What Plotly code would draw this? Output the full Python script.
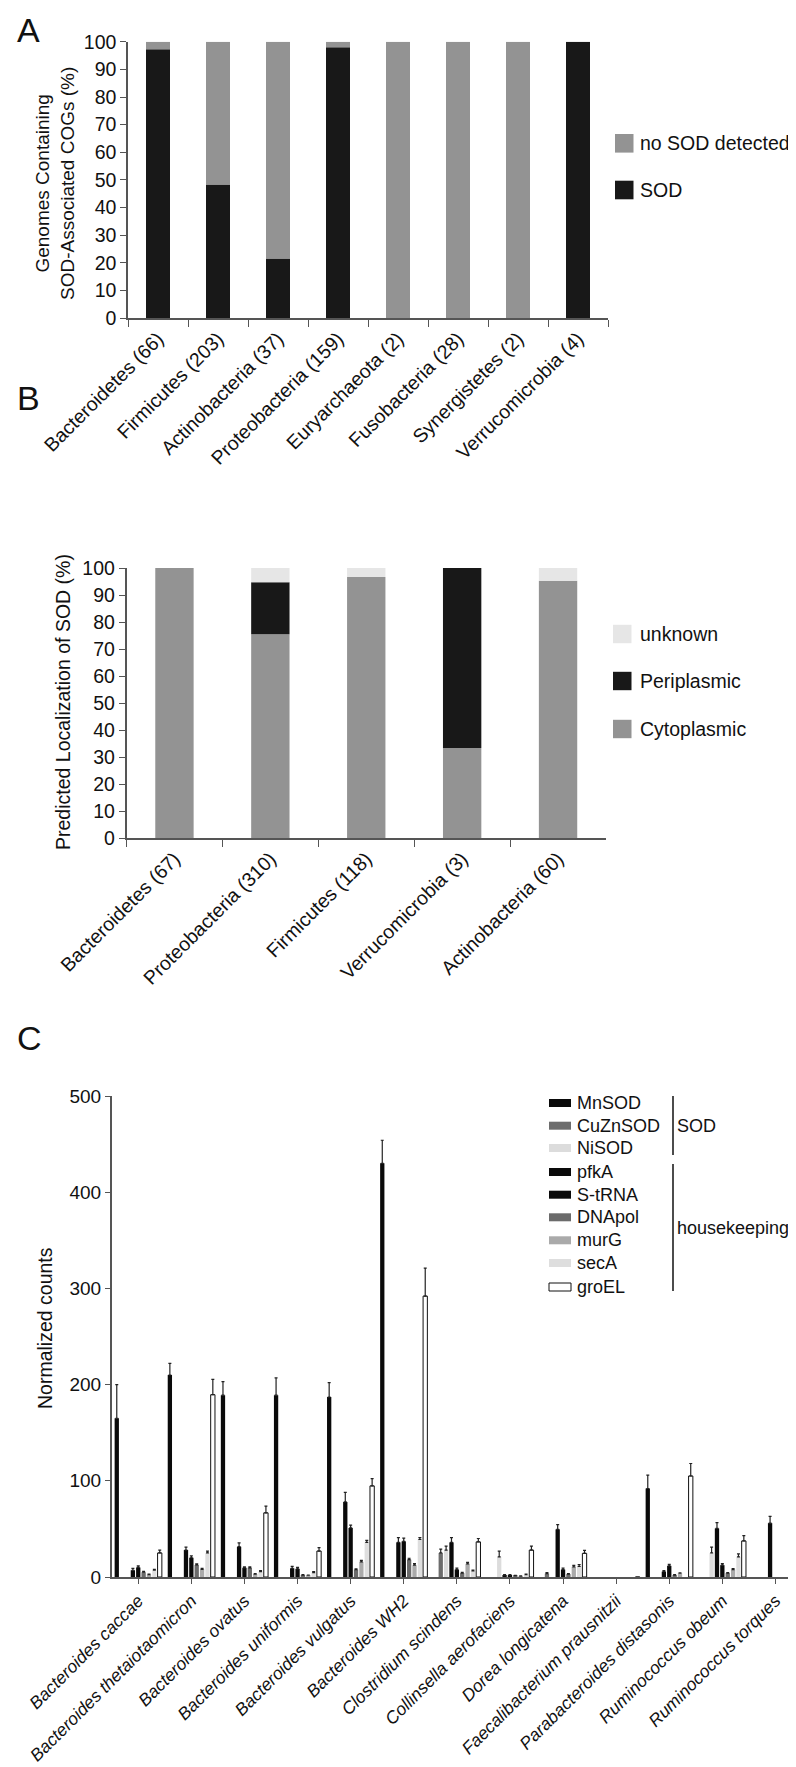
import plotly.graph_objects as go

W, H = 796, 1767

# ---------------- Panel A data ----------------
phyla_a = ["Bacteroidetes (66)", "Firmicutes (203)", "Actinobacteria (37)", "Proteobacteria (159)",
           "Euryarchaeota (2)", "Fusobacteria (28)", "Synergistetes (2)", "Verrucomicrobia (4)"]
sod_a = [97.3, 48.3, 21.5, 98.0, 0, 0, 0, 100]
nosod_a = [2.7, 51.7, 78.5, 2.0, 100, 100, 100, 0]
legend_a = ["no SOD detected", "SOD"]
ytitle_a = "Genomes Containing<br>SOD-Associated COGs (%)"

# ---------------- Panel B data ----------------
phyla_b = ["Bacteroidetes (67)", "Proteobacteria (310)", "Firmicutes (118)", "Verrucomicrobia (3)",
           "Actinobacteria (60)"]
cyto_b = [100, 75.5, 96.7, 33.3, 95.3]
peri_b = [0, 19.2, 0, 66.7, 0]
unk_b = [0, 5.3, 3.3, 0, 4.7]
legend_b = ["unknown", "Periplasmic", "Cytoplasmic"]
ytitle_b = "Predicted Localization of SOD (%)"

# ---------------- Panel C data ----------------
species = ["Bacteroides caccae", "Bacteroides thetaiotaomicron", "Bacteroides ovatus",
           "Bacteroides uniformis", "Bacteroides vulgatus", "Bacteroides WH2",
           "Clostridium scindens", "Collinsella aerofaciens", "Dorea longicatena",
           "Faecalibacterium prausnitzii", "Parabacteroides distasonis", "Ruminococcus obeum",
           "Ruminococcus torques"]
genes_c = ["MnSOD", "CuZnSOD", "NiSOD", "pfkA", "S-tRNA", "DNApol", "murG", "secA", "groEL"]
mnsod = [165, 210, 189, 189, 187, 430, 0, 0, 0, 0, 92, 0, 0]
mnsod_err = [35, 12, 14, 18, 15, 24, 0, 0, 0, 0, 14, 0, 0]
cuznsod = [0, 0, 0, 0, 0, 0, 25, 0, 3.5, 0, 0, 0, 0]
cuznsod_err = [0, 0, 0, 0, 0, 0, 4, 0, 1, 0, 0, 0, 0]
nisod = [0, 0, 0, 0, 0, 0, 28, 21, 0, 0, 0, 25, 0]
nisod_err = [0, 0, 0, 0, 0, 0, 4, 6, 0, 0, 0, 6, 0]
pfka = [7, 28, 31.5, 9, 78, 36, 36, 2, 49.5, 0, 5.6, 50.5, 56]
pfka_err = [2, 3, 4, 2, 10, 5, 5, 0.5, 5, 0, 1, 6, 7]
strna = [10, 20, 9.5, 8.5, 51, 37, 7.7, 2, 7.7, 0, 11.6, 12.3, 0]
strna_err = [1.5, 2, 1, 1.5, 3, 3.5, 1.5, 0.5, 1.5, 0, 1.5, 1.5, 0]
dnapol = [5, 12.6, 9.5, 2, 7.7, 18, 4, 1.4, 3, 0, 2, 4, 0]
dnapol_err = [0.8, 1, 1, 0.5, 0.8, 1.5, 0.8, 0.3, 0.5, 0, 0.4, 0.6, 0]
murg = [2.5, 8, 3, 1.8, 15.8, 12.3, 13.7, 1, 10.5, 0, 3.9, 7.7, 0]
murg_err = [0.5, 1, 0.5, 0.3, 1.5, 1.5, 1.5, 0.3, 1.5, 0, 0.5, 1, 0]
seca = [7, 25, 5.6, 4.6, 36, 39, 6.3, 2.5, 11, 0, 0, 21, 5.3]
seca_err = [1, 2, 1, 1, 2, 2, 1, 0.5, 2, 0, 0, 3, 1]
groel = [25, 189.5, 66.7, 27, 94.7, 292, 36.5, 28, 24.6, 0, 105, 37.5, 0]
groel_err = [3, 16, 7, 3.5, 7.5, 29, 3.5, 4, 3, 0, 13, 5.5, 0]
ytitle_c = "Normalized counts"

# ---------------- styles ----------------
FONT = "Liberation Sans, Arial, Helvetica, sans-serif"
DARK = "#181818"
MID = "#939393"
LIGHT = "#e6e6e6"
AXC = "#555555"
TXT = "#111111"
FS_AB = 19.5
FS_C = 17.5


def px(x):
    return x / W


def py(y):
    return 1 - y / H


fig = go.Figure()

# Panel A stacked bars (explicit base)
fig.add_trace(go.Bar(x=phyla_a, y=sod_a, base=[0] * len(sod_a), name=legend_a[1],
                     marker=dict(color=DARK, line=dict(width=0)), width=0.4, offset=-0.2,
                     xaxis="x", yaxis="y", showlegend=False))
fig.add_trace(go.Bar(x=phyla_a, y=nosod_a, base=sod_a, name=legend_a[0],
                     marker=dict(color=MID, line=dict(width=0)), width=0.4, offset=-0.2,
                     xaxis="x", yaxis="y", showlegend=False))

# Panel B stacked bars
base_unk = [c + p for c, p in zip(cyto_b, peri_b)]
fig.add_trace(go.Bar(x=phyla_b, y=cyto_b, base=[0] * len(cyto_b), name=legend_b[2],
                     marker=dict(color=MID, line=dict(width=0)), width=0.4, offset=-0.2,
                     xaxis="x2", yaxis="y2", showlegend=False))
fig.add_trace(go.Bar(x=phyla_b, y=peri_b, base=cyto_b, name=legend_b[1],
                     marker=dict(color=DARK, line=dict(width=0)), width=0.4, offset=-0.2,
                     xaxis="x2", yaxis="y2", showlegend=False))
fig.add_trace(go.Bar(x=phyla_b, y=unk_b, base=base_unk, name=legend_b[0],
                     marker=dict(color=LIGHT, line=dict(width=0)), width=0.4, offset=-0.2,
                     xaxis="x2", yaxis="y2", showlegend=False))

# Panel C grouped bars
vals_c = [mnsod, cuznsod, nisod, pfka, strna, dnapol, murg, seca, groel]
errs_c = [mnsod_err, cuznsod_err, nisod_err, pfka_err, strna_err, dnapol_err, murg_err, seca_err, groel_err]
cols_c = ["#0a0a0a", "#6d6d6d", "#dcdcdc", "#0a0a0a", "#0a0a0a", "#6b6b6b", "#aaaaaa", "#dedede", "#ffffff"]
for name, v, e, c in zip(genes_c, vals_c, errs_c, cols_c):
    line = dict(width=1, color="#111111") if c == "#ffffff" else dict(width=0)
    # "NaN" -> no error bar drawn for that bar
    up = [err if err > 0 else "NaN" for err in e]
    fig.add_trace(go.Bar(x=species, y=v, name=name,
                         marker=dict(color=c, line=line),
                         error_y=dict(type="data", array=up, arrayminus=["NaN"] * len(e),
                                      symmetric=False, color="#222222", thickness=1.2, width=1.5),
                         xaxis="x3", yaxis="y3", showlegend=False))

tickfont = dict(family=FONT, size=FS_AB, color=TXT)
common_axis = dict(showline=True, linecolor=AXC, linewidth=1.5, tickcolor=AXC, tickwidth=1.3,
                   showgrid=False, zeroline=False, ticks="outside", fixedrange=True,
                   automargin=False)

fig.update_layout(
    width=W, height=H, autosize=False,
    margin=dict(l=0, r=0, t=0, b=0, pad=0),
    paper_bgcolor="white", plot_bgcolor="white",
    barmode="group", bargap=0.09, bargroupgap=0.2,
    font=dict(family=FONT, size=18, color=TXT),
    # Panel A
    xaxis=dict(domain=[px(120), px(600)], anchor="y", type="category", tickson="boundaries",
               ticklen=7, tickangle=-45, range=[-0.5, 7.5], tickfont=tickfont, **common_axis),
    yaxis=dict(domain=[py(310), py(33.8)], anchor="x", range=[0, 100], dtick=10, ticklen=6,
               tickfont=tickfont, **common_axis),
    # Panel B
    xaxis2=dict(domain=[px(118.5), px(598)], anchor="y2", type="category", tickson="boundaries",
                ticklen=7, tickangle=-45, range=[-0.5, 4.5], tickfont=tickfont, **common_axis),
    yaxis2=dict(domain=[py(830), py(560)], anchor="x2", range=[0, 100], dtick=10, ticklen=6,
                tickfont=tickfont, **common_axis),
    # Panel C
    xaxis3=dict(domain=[px(103.7), px(794)], anchor="y3", type="category",
                ticklen=5, tickangle=-45, range=[-0.5, 12.5],
                tickfont=dict(family=FONT, size=FS_C, color=TXT, style="italic"), **common_axis),
    yaxis3=dict(domain=[py(1569), py(1088)], anchor="x3", range=[0, 500], dtick=100, ticklen=5,
                tickfont=dict(family=FONT, size=19, color=TXT), **common_axis),
)

shapes = []
annotations = []


def add_text(text, x, y, size=18, xanchor="left", yanchor="middle", angle=0):
    annotations.append(dict(text=text, x=px(x), y=py(y), xref="paper", yref="paper",
                            xanchor=xanchor, yanchor=yanchor, showarrow=False, textangle=angle,
                            font=dict(family=FONT, size=size, color=TXT)))


# Panel letters (centred on the capital)
for letter, yc in [("A", 22), ("B", 390), ("C", 1030)]:
    add_text(letter, 7, yc, size=34)

# Y-axis titles
add_text(ytitle_a, 47, 176, size=19, xanchor="center", angle=-90)
add_text(ytitle_b, 55, 694, size=19.5, xanchor="center", angle=-90)
add_text(ytitle_c, 37, 1320, size=19.5, xanchor="center", angle=-90)

# Legend A
for name, col, yc in zip(legend_a, [MID, DARK], [135.3, 182]):
    shapes.append(dict(type="rect", xref="paper", yref="paper", x0=px(607), x1=px(625.5),
                       y0=py(yc + 9.3), y1=py(yc - 9.3), fillcolor=col, line=dict(width=0)))
    add_text(name, 630, yc, size=FS_AB)

# Legend B
for name, col, yc in zip(legend_b, [LIGHT, DARK, MID], [626, 673, 721]):
    shapes.append(dict(type="rect", xref="paper", yref="paper", x0=px(605), x1=px(623.5),
                       y0=py(yc + 9.2), y1=py(yc - 9.2), fillcolor=col, line=dict(width=0)))
    add_text(name, 630, yc, size=FS_AB)

# Legend C
ys_c = [1095, 1117.7, 1140, 1164, 1186.7, 1209.3, 1232.3, 1255, 1279]
for name, col, yc in zip(genes_c, cols_c, ys_c):
    lw = dict(width=1, color="#111111") if col == "#ffffff" else dict(width=0)
    shapes.append(dict(type="rect", xref="paper", yref="paper", x0=px(541), x1=px(563),
                       y0=py(yc + 4), y1=py(yc - 4), fillcolor=col, line=lw))
    add_text(name, 567, yc, size=18)
# brackets
shapes.append(dict(type="line", xref="paper", yref="paper", x0=px(665), x1=px(665),
                   y0=py(1088), y1=py(1147), line=dict(color="#111111", width=1.5)))
shapes.append(dict(type="line", xref="paper", yref="paper", x0=px(665), x1=px(665),
                   y0=py(1156), y1=py(1283), line=dict(color="#111111", width=1.5)))
add_text("SOD", 667, 1117.7, size=18)
add_text("housekeeping", 667, 1220, size=18)

fig.update_layout(shapes=shapes, annotations=annotations)

fig.write_html("out.html")
